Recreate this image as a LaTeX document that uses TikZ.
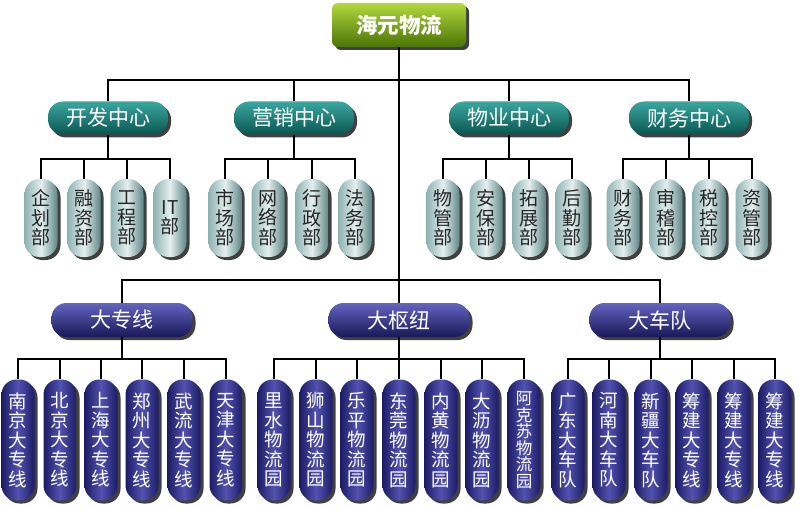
\documentclass[tikz,border=0pt]{standalone}
\usepackage{fontspec}
\newfontfamily\cjk{Noto Sans CJK SC}
\usetikzlibrary{shadows}
\definecolor{limetop}{HTML}{B4D83E}
\definecolor{limebot}{HTML}{4A7406}
\definecolor{tealtop}{HTML}{3CA6A0}
\definecolor{tealbot}{HTML}{0A5651}
\definecolor{palemid}{HTML}{E4EFEF}
\definecolor{paleedge}{HTML}{8FB2B2}
\definecolor{paledark}{HTML}{5E8686}
\definecolor{navytop}{HTML}{6464C0}
\definecolor{navybot}{HTML}{181858}
\definecolor{navymid}{HTML}{5252B0}
\definecolor{navyedge}{HTML}{1C1C66}
\begin{document}
\begin{tikzpicture}[x=1pt,y=-1pt,
    link/.style={line width=1.8pt},
    boxshadow/.style={drop shadow={shadow xshift=3pt,shadow yshift=-3pt,fill=black!75,opacity=1}},
    topbox/.style={boxshadow,rounded corners=6pt,minimum width=134pt,minimum height=44pt,
      top color=limetop,bottom color=limebot,text=white,font=\cjk\bfseries\fontsize{21.5}{23}\selectfont},
    hubbox/.style={boxshadow,rounded corners=15pt,minimum width=120pt,minimum height=33pt,
      top color=tealtop,bottom color=tealbot,text=white,font=\cjk\fontsize{21}{23}\selectfont},
    grpbox/.style={hubbox,minimum width=141pt,minimum height=34pt,top color=navytop,bottom color=navybot},
    deptbox/.style={boxshadow,rounded corners=15pt,minimum width=33pt,minimum height=78pt,inner sep=0pt,
      align=center,left color=paleedge,right color=paledark,middle color=palemid,text=black!85,
      font=\cjk\fontsize{19}{19.5}\selectfont},
    sitebox/.style={deptbox,minimum height=121pt,left color=navyedge,right color=navyedge,
      middle color=navymid,text=white,font=\cjk\fontsize{18.5}{19.5}\selectfont},
  ]
  \useasboundingbox (0,0) rectangle (800,508);

  \node[topbox] (hy) at (399,25) {海元物流};
  \coordinate (bus1) at (399,80);
  \coordinate (bus2) at (399,280);
  \draw[link] (hy.south) -- (bus2);

  \foreach \n/\x/\t in {kf/108/开发中心, yx/294/营销中心, wy/509/物业中心, cw/689/财务中心}{
    \node[hubbox] (\n) at (\x,118) {\t};
    \draw[link] (\n.north) |- (bus1);
    \coordinate (\n bus) at (\x,159);
    \draw[link] (\n.south) -- (\n bus);
  }

  \foreach \x/\t [count=\i] in {41/企\\划\\部, 84/融\\资\\部, 127/工\\程\\部, 170/IT\\部}{
    \node[deptbox] (kf\i) at (\x,218) {\t};
    \draw[link] (kf\i.north) |- (kfbus);
  }
  \foreach \x/\t [count=\i] in {225/市\\场\\部, 268/网\\络\\部, 312/行\\政\\部, 355/法\\务\\部}{
    \node[deptbox] (yx\i) at (\x,218) {\t};
    \draw[link] (yx\i.north) |- (yxbus);
  }
  \foreach \x/\t [count=\i] in {443/物\\管\\部, 486/安\\保\\部, 529/拓\\展\\部, 572/后\\勤\\部}{
    \node[deptbox] (wy\i) at (\x,218) {\t};
    \draw[link] (wy\i.north) |- (wybus);
  }
  \foreach \x/\t [count=\i] in {623/财\\务\\部, 666/审\\稽\\部, 709/税\\控\\部, 752/资\\管\\部}{
    \node[deptbox] (cw\i) at (\x,218) {\t};
    \draw[link] (cw\i.north) |- (cwbus);
  }

  \foreach \n/\x/\t in {zx/122/大专线, sn/399/大枢纽, cd/660/大车队}{
    \node[grpbox] (\n) at (\x,320) {\t};
    \draw[link] (\n.north) |- (bus2);
    \coordinate (\n bus) at (\x,359);
    \draw[link] (\n.south) -- (\n bus);
  }

  \foreach \x/\t [count=\i] in {18/南\\京\\大\\专\\线, 60/北\\京\\大\\专\\线, 101/上\\海\\大\\专\\线,
      142/郑\\州\\大\\专\\线, 184/武\\流\\大\\专\\线, 226/天\\津\\大\\专\\线}{
    \node[sitebox] (zx\i) at (\x,440) {\t};
    \draw[link] (zx\i.north) |- (zxbus);
  }
  \foreach \x/\t [count=\i] in {274/里\\水\\物\\流\\园, 316/狮\\山\\物\\流\\园, 357/乐\\平\\物\\流\\园,
      399/东\\莞\\物\\流\\园, 441/内\\黄\\物\\流\\园, 482/大\\沥\\物\\流\\园}{
    \node[sitebox] (sn\i) at (\x,440) {\t};
    \draw[link] (sn\i.north) |- (snbus);
  }
  \node[sitebox,font=\cjk\fontsize{16.5}{16.5}\selectfont] (sn7) at (524,440) {阿\\克\\苏\\物\\流\\园};
  \draw[link] (sn7.north) |- (snbus);
  \foreach \x/\t [count=\i] in {568/广\\东\\大\\车\\队, 609/河\\南\\大\\车\\队, 651/新\\疆\\大\\车\\队,
      692/筹\\建\\大\\专\\线, 734/筹\\建\\大\\专\\线, 775/筹\\建\\大\\专\\线}{
    \node[sitebox] (cd\i) at (\x,440) {\t};
    \draw[link] (cd\i.north) |- (cdbus);
  }
\end{tikzpicture}
\end{document}
